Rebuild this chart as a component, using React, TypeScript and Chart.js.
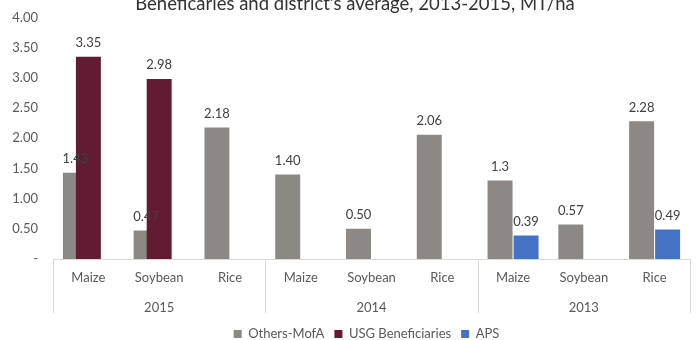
import React, { useEffect, useRef } from "react";
import { Chart, registerables } from "chart.js";

Chart.register(...registerables);

// Crop categories (three per year) and the year groups below them
const categories = ["Maize", "Soybean", "Rice", "Maize", "Soybean", "Rice", "Maize", "Soybean", "Rice"];
const years = ["2015", "2014", "2013"];

// Yields in MT/ha, kept as the printed label text
const othersMofA: (string | null)[] = ["1.43", "0.47", "2.18", "1.40", "0.50", "2.06", "1.3", "0.57", "2.28"];
const usgBeneficiaries: (string | null)[] = ["3.35", "2.98", null, null, null, null, null, null, null];
const aps: (string | null)[] = [null, null, null, null, null, null, "0.39", null, "0.49"];

const titleText = "Beneficaries and district's average, 2013-2015, MT/ha";

const FONT = "Lato, 'Open Sans', sans-serif";
const TEXT = "#595959";
const RULE = "#d9d9d9";

const toNum = (arr: (string | null)[]) => arr.map((v) => (v === null ? null : parseFloat(v)));

// Value labels above every bar, drawn once all bars are in place
const valueLabels = {
  id: "valueLabels",
  afterDatasetsDraw(chart: any) {
    const ctx = chart.ctx;
    ctx.save();
    ctx.font = `13px ${FONT}`;
    ctx.fillStyle = "#404040";
    ctx.textAlign = "center";
    ctx.textBaseline = "middle";
    chart.data.datasets.forEach((ds: any, di: number) => {
      const meta = chart.getDatasetMeta(di);
      const texts: (string | null)[] = ds.valueLabels || [];
      meta.data.forEach((el: any, i: number) => {
        const t = texts[i];
        if (!t) return;
        ctx.fillText(t, el.x, el.y - 14);
      });
    });
    ctx.restore();
  },
};

// Legend centred under the plot area rather than the whole canvas
const legendShift = {
  id: "legendShift",
  afterLayout(chart: any) {
    const lg = chart.legend;
    if (!lg) return;
    const dx = (chart.chartArea.left + chart.chartArea.right) / 2 - 5 - (lg.left + lg.right) / 2;
    lg.left += dx;
    lg.right += dx;
  },
};

// Group separators for the two-level category axis, plus the title
const axisFrame = {
  id: "axisFrame",
  afterDraw(chart: any) {
    const ctx = chart.ctx;
    const x = chart.scales.x;
    const step = x.getPixelForValue(1) - x.getPixelForValue(0);
    ctx.save();
    ctx.strokeStyle = RULE;
    ctx.lineWidth = 1;
    for (let g = 0; g <= years.length; g++) {
      const px = Math.round(x.getPixelForValue(g * 3) - step / 2) + 0.5;
      ctx.beginPath();
      ctx.moveTo(px, chart.chartArea.bottom);
      ctx.lineTo(px, chart.chartArea.bottom + 54);
      ctx.stroke();
    }
    ctx.font = `18.5px ${FONT}`;
    ctx.fillStyle = "#333333";
    ctx.textAlign = "center";
    ctx.textBaseline = "alphabetic";
    ctx.fillText(titleText, 355, 10);
    ctx.restore();
  },
};

export default function App() {
  const ref = useRef<HTMLCanvasElement | null>(null);

  useEffect(() => {
    if (!ref.current) return;
    const chart = new Chart(ref.current, {
      type: "bar",
      data: {
        labels: categories,
        datasets: [
          {
            label: "Others-MofA",
            data: toNum(othersMofA),
            valueLabels: othersMofA,
            backgroundColor: "#8c8984",
            order: 2,
            categoryPercentage: 0.735,
            barPercentage: 0.96,
          } as any,
          {
            label: "USG Beneficiaries",
            data: toNum(usgBeneficiaries),
            valueLabels: usgBeneficiaries,
            backgroundColor: "#621b32",
            order: 1,
            grouped: false,
            categoryPercentage: 0.735,
            barPercentage: 0.48,
          } as any,
          {
            label: "APS",
            data: toNum(aps),
            valueLabels: aps,
            backgroundColor: "#4472c4",
            order: 2,
            categoryPercentage: 0.735,
            barPercentage: 0.96,
          } as any,
        ],
      },
      options: {
        responsive: false,
        maintainAspectRatio: false,
        animation: false,
        layout: { padding: { left: 8, right: 7, top: 17.5, bottom: -10.5 } },
        font: { family: FONT },
        scales: {
          x: {
            type: "category",
            offset: true,
            grid: { display: false, drawTicks: false },
            border: { display: true, color: RULE, width: 1 },
            ticks: { color: TEXT, font: { family: FONT, size: 13 }, padding: 11, maxRotation: 0, autoSkip: false },
            afterFit: (s: any) => {
              s.height = 27;
            },
          },
          x2: {
            type: "category",
            labels: years,
            position: "bottom",
            offset: true,
            grid: { display: false, drawTicks: false },
            border: { display: false },
            ticks: { color: TEXT, font: { family: FONT, size: 13 }, padding: 14, maxRotation: 0 },
            afterFit: (s: any) => {
              s.height = 31.5;
            },
          },
          y: {
            min: 0,
            max: 4,
            grid: { display: false, drawTicks: false },
            border: { display: false },
            ticks: {
              stepSize: 0.5,
              color: TEXT,
              font: { family: FONT, size: 13 },
              padding: 15,
              callback: (v: any) => (Number(v) === 0 ? "-" : Number(v).toFixed(2)),
            },
            afterFit: (s: any) => {
              s.width = 45;
              s.paddingTop = 0;
              s.paddingBottom = 0;
            },
          },
        },
        plugins: {
          legend: {
            position: "bottom",
            labels: {
              boxWidth: 8,
              boxHeight: 8,
              padding: 10,
              color: TEXT,
              font: { family: FONT, size: 13 },
              sort: (a: any, b: any) => a.datasetIndex - b.datasetIndex,
            },
          },
          title: { display: false },
          tooltip: { enabled: false },
        },
      } as any,
      plugins: [valueLabels, legendShift, axisFrame],
    });
    return () => chart.destroy();
  }, []);

  return (
    <div style={{ position: "absolute", left: 0, top: 0, width: 697, height: 340, background: "#fff" }}>
      <canvas ref={ref} width={697} height={340} />
    </div>
  );
}
